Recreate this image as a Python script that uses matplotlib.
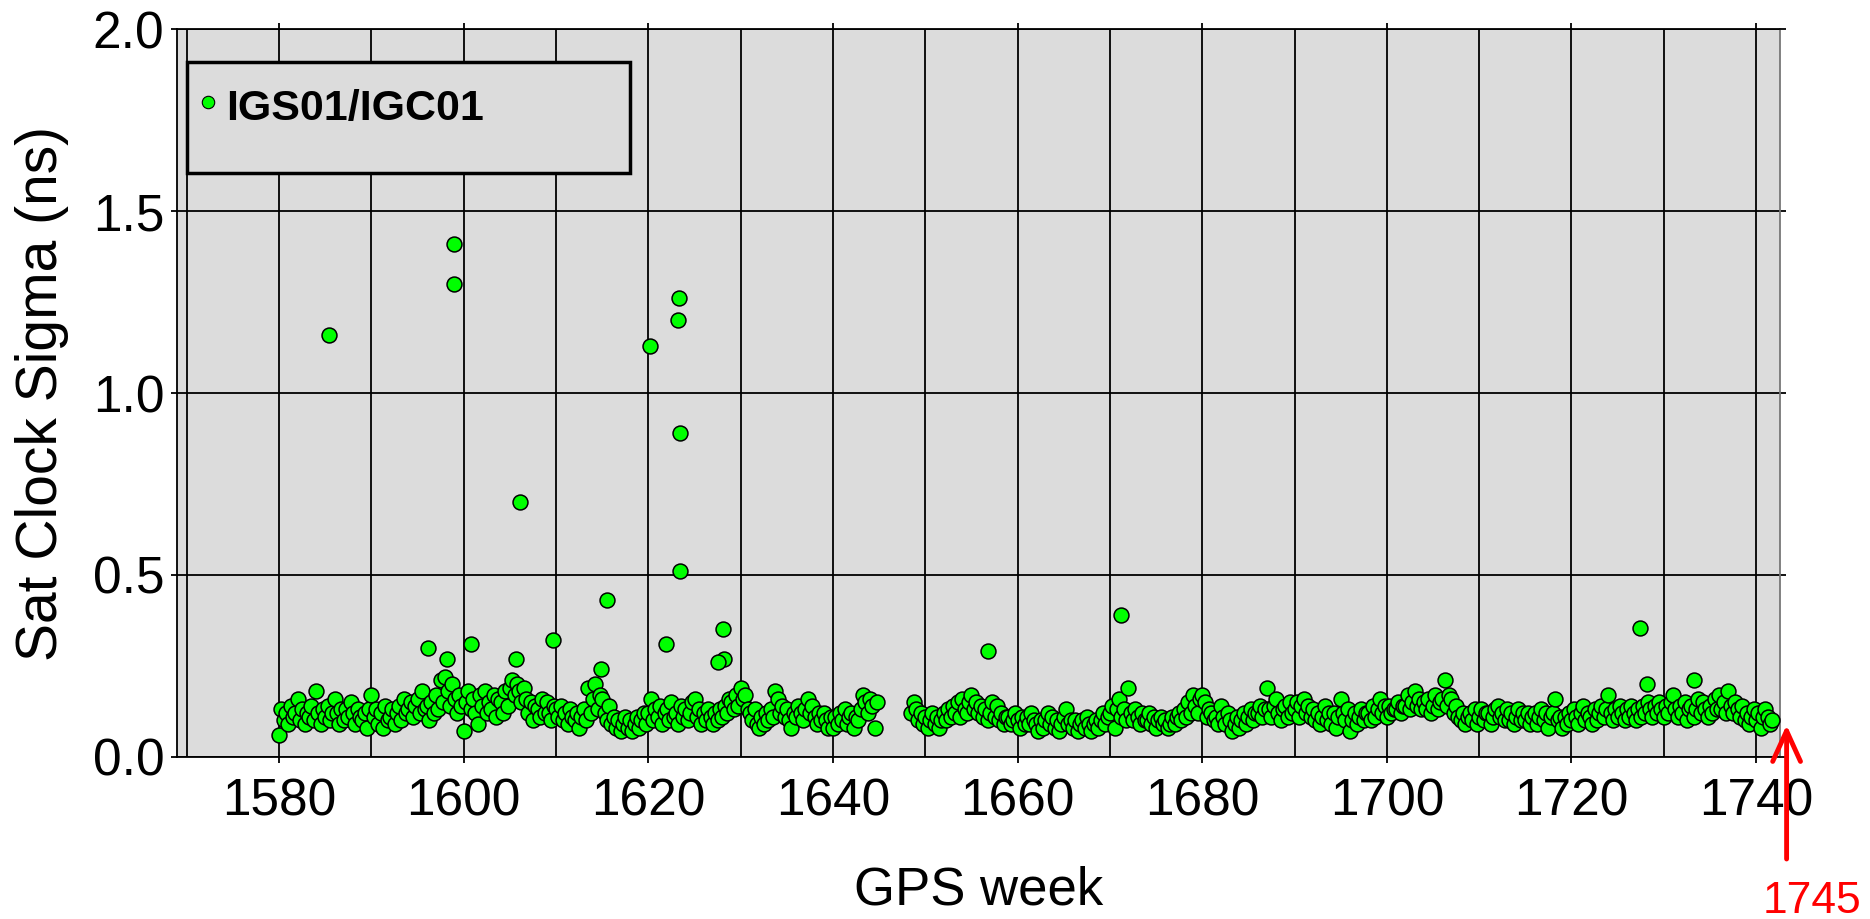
import numpy as np
import matplotlib
matplotlib.use("Agg")
import matplotlib.pyplot as plt
from matplotlib.patches import Rectangle
from matplotlib.ticker import FormatStrFormatter

plt.rcParams["font.family"] = ["Liberation Sans", "DejaVu Sans"]

# satellite clock sigma (ns) at 4 samples per GPS week
PER_WEEK = 4
SEG1_START = 1580.0
seg1_sigma = [
    0.06, 0.13, 0.10, 0.12, 0.09, 0.14, 0.11, 0.12, 0.16, 0.10, 0.13, 0.09, 0.12, 0.11, 0.14, 0.10, 0.18, 0.12, 0.09, 0.13,
    0.11, 0.14, 0.10, 0.12, 0.16, 0.12, 0.09, 0.13, 0.10, 0.13, 0.11, 0.15, 0.12, 0.09, 0.13, 0.11, 0.10, 0.12, 0.08, 0.13,
    0.17, 0.11, 0.13, 0.09, 0.12, 0.08, 0.14, 0.10, 0.11, 0.13, 0.09, 0.12, 0.14, 0.10, 0.16, 0.12, 0.13, 0.15, 0.11, 0.14,
    0.16, 0.12, 0.18, 0.13, 0.14, 0.10, 0.15, 0.12, 0.17, 0.13, 0.21, 0.15, 0.22, 0.18, 0.14, 0.20, 0.16, 0.12, 0.17, 0.14,
    0.07, 0.15, 0.18, 0.13, 0.16, 0.12, 0.09, 0.17, 0.14, 0.18, 0.12, 0.15, 0.13, 0.17, 0.11, 0.16, 0.15, 0.12, 0.18, 0.14,
    0.19, 0.21, 0.17, 0.20, 0.18, 0.15, 0.19, 0.16, 0.12, 0.15, 0.10, 0.14, 0.13, 0.11, 0.16, 0.12, 0.15, 0.12, 0.10, 0.14,
    0.13, 0.11, 0.14, 0.10, 0.12, 0.09, 0.13, 0.11, 0.10, 0.12, 0.08, 0.11, 0.13, 0.10, 0.19, 0.12, 0.16, 0.20, 0.13, 0.17,
    0.16, 0.12, 0.10, 0.14, 0.09, 0.11, 0.08, 0.10, 0.07, 0.09, 0.11, 0.08, 0.10, 0.07, 0.09, 0.11, 0.08, 0.10, 0.12, 0.09,
    0.12, 0.16, 0.10, 0.13, 0.11, 0.14, 0.09, 0.12, 0.13, 0.10, 0.15, 0.11, 0.12, 0.09, 0.14, 0.11, 0.13, 0.10, 0.12, 0.15,
    0.16, 0.11, 0.13, 0.09, 0.12, 0.10, 0.13, 0.11, 0.09, 0.12, 0.10, 0.13, 0.11, 0.14, 0.12, 0.16, 0.15, 0.13, 0.17, 0.14,
    0.19, 0.16, 0.17, 0.13, 0.12, 0.10, 0.13, 0.09, 0.08, 0.11, 0.09, 0.12, 0.10, 0.13, 0.11, 0.18, 0.16, 0.12, 0.14, 0.11,
    0.13, 0.10, 0.08, 0.12, 0.11, 0.14, 0.12, 0.10, 0.13, 0.16, 0.12, 0.14, 0.11, 0.09, 0.12, 0.10, 0.12, 0.10, 0.08, 0.11,
    0.08, 0.11, 0.09, 0.12, 0.10, 0.13, 0.09, 0.11, 0.12, 0.08, 0.11, 0.10, 0.13, 0.17, 0.15, 0.12, 0.16, 0.14, 0.08, 0.15,
]
SEG2_START = 1648.5
seg2_sigma = [
    0.12, 0.15,
    0.13, 0.10, 0.12, 0.09, 0.11, 0.08, 0.10, 0.12, 0.09, 0.11, 0.08, 0.10, 0.12, 0.10, 0.13, 0.11, 0.14, 0.12, 0.15, 0.11,
    0.16, 0.13, 0.12, 0.15, 0.17, 0.13, 0.15, 0.12, 0.14, 0.11, 0.13, 0.10, 0.12, 0.15, 0.11, 0.14, 0.10, 0.12, 0.09, 0.11,
    0.11, 0.09, 0.10, 0.12, 0.10, 0.08, 0.11, 0.09, 0.11, 0.09, 0.12, 0.10, 0.09, 0.07, 0.10, 0.08, 0.10, 0.12, 0.09, 0.11,
    0.08, 0.10, 0.07, 0.09, 0.11, 0.13, 0.09, 0.10, 0.08, 0.10, 0.07, 0.09, 0.10, 0.08, 0.11, 0.09, 0.07, 0.09, 0.10, 0.08,
    0.10, 0.12, 0.09, 0.11, 0.12, 0.14, 0.08, 0.13, 0.16, 0.11, 0.13, 0.10, 0.19, 0.12, 0.10, 0.13, 0.11, 0.09, 0.12, 0.10,
    0.10, 0.12, 0.09, 0.11, 0.08, 0.10, 0.11, 0.09, 0.10, 0.08, 0.09, 0.11, 0.09, 0.11, 0.12, 0.10, 0.13, 0.11, 0.15, 0.12,
    0.17, 0.14, 0.12, 0.16, 0.17, 0.15, 0.11, 0.13, 0.12, 0.10, 0.11, 0.09, 0.14, 0.11, 0.09, 0.12, 0.10, 0.07, 0.09, 0.11,
    0.08, 0.10, 0.12, 0.09, 0.11, 0.13, 0.10, 0.12, 0.12, 0.14, 0.11, 0.13, 0.19, 0.13, 0.11, 0.14, 0.16, 0.12, 0.10, 0.13,
    0.14, 0.11, 0.15, 0.12, 0.13, 0.15, 0.11, 0.14, 0.16, 0.12, 0.14, 0.11, 0.13, 0.10, 0.12, 0.09, 0.11, 0.14, 0.10, 0.12,
    0.09, 0.12, 0.08, 0.11, 0.16, 0.12, 0.10, 0.13, 0.07, 0.10, 0.12, 0.09, 0.11, 0.13, 0.10, 0.12, 0.12, 0.10, 0.14, 0.11,
    0.13, 0.16, 0.12, 0.14, 0.11, 0.14, 0.12, 0.13, 0.13, 0.15, 0.12, 0.14, 0.14, 0.17, 0.13, 0.15, 0.18, 0.14, 0.16, 0.13,
    0.15, 0.13, 0.16, 0.12, 0.14, 0.17, 0.13, 0.15, 0.16, 0.21, 0.14, 0.17, 0.16, 0.12, 0.14, 0.11, 0.10, 0.12, 0.09, 0.11,
    0.12, 0.10, 0.13, 0.09, 0.11, 0.13, 0.10, 0.12, 0.12, 0.09, 0.11, 0.13, 0.14, 0.11, 0.12, 0.10, 0.13, 0.10, 0.12, 0.09,
    0.11, 0.13, 0.10, 0.12, 0.10, 0.12, 0.09, 0.11, 0.12, 0.09, 0.11, 0.13, 0.10, 0.12, 0.08, 0.11, 0.12, 0.16, 0.10, 0.11,
    0.08, 0.11, 0.09, 0.12, 0.10, 0.13, 0.11, 0.09, 0.12, 0.14, 0.10, 0.12, 0.11, 0.09, 0.13, 0.10, 0.12, 0.14, 0.11, 0.13,
    0.17, 0.12, 0.10, 0.13, 0.11, 0.14, 0.12, 0.10, 0.13, 0.11, 0.14, 0.12, 0.10, 0.13, 0.11, 0.14, 0.12, 0.15, 0.13, 0.11,
    0.14, 0.12, 0.15, 0.13, 0.11, 0.14, 0.12, 0.15, 0.17, 0.13, 0.11, 0.14, 0.12, 0.15, 0.10, 0.13, 0.14, 0.11, 0.13, 0.16,
    0.12, 0.15, 0.13, 0.11, 0.14, 0.12, 0.16, 0.13, 0.17, 0.13, 0.15, 0.12, 0.18, 0.14, 0.12, 0.15, 0.13, 0.11, 0.14, 0.10,
    0.12, 0.09, 0.11, 0.13, 0.10, 0.12, 0.08, 0.11, 0.13, 0.11, 0.09, 0.10,
]

# isolated high values
outlier_weeks = [1585.4, 1598.9, 1598.9, 1606.1, 1620.2, 1623.3, 1623.2, 1623.4, 1623.4, 1621.9,
                 1615.5, 1614.9, 1628.1, 1628.2, 1627.5, 1609.7, 1605.7, 1600.8, 1596.1, 1598.2,
                 1656.8, 1671.2, 1727.4, 1728.2, 1733.3]
outlier_sigma = [1.16, 1.41, 1.30, 0.70, 1.13, 1.26, 1.20, 0.89, 0.51, 0.31,
                 0.43, 0.24, 0.35, 0.27, 0.26, 0.32, 0.27, 0.31, 0.30, 0.27,
                 0.29, 0.39, 0.355, 0.20, 0.21]

week1 = SEG1_START + np.arange(len(seg1_sigma)) / PER_WEEK
week2 = SEG2_START + np.arange(len(seg2_sigma)) / PER_WEEK
weeks = np.concatenate([week1, week2, outlier_weeks])
sigma = np.concatenate([seg1_sigma, seg2_sigma, outlier_sigma])

fig = plt.figure(figsize=(18.7, 9.19), dpi=100)
ax = fig.add_axes([0.0945, 0.1766, 0.8574, 0.7915])
ax.set_facecolor("#dcdcdc")

ax.scatter(weeks, sigma, s=115, c="#00ff00", edgecolors="black", linewidths=1.1, zorder=3)

ax.set_xticks(np.arange(1580, 1741, 20))
ax.set_xticks(np.arange(1570, 1741, 10), minor=True)
ax.set_yticks(np.arange(0, 2.01, 0.5))
ax.yaxis.set_major_formatter(FormatStrFormatter("%.1f"))
ax.grid(True, which="both", color="black", linewidth=1.3)
ax.set_axisbelow(True)
ax.tick_params(axis="x", which="major", direction="out", length=4, width=1.3,
               top=True, labelsize=37, pad=11)
ax.tick_params(axis="x", which="minor", length=0)
ax.tick_params(axis="y", direction="out", length=4, width=1.3, right=True,
               labelsize=37, pad=5)
for sp in ax.spines.values():
    sp.set_color("black")
    sp.set_linewidth(1.3)
ax.spines["right"].set_color("#777777")

ax.set_xlabel("GPS week", fontsize=38)
ax.xaxis.set_label_coords(0.5, -0.1833)
ax.xaxis.label.set_va("center")
ax.set_ylabel("Sat Clock Sigma (ns)", fontsize=41)
ax.yaxis.set_label_coords(-0.084, 0.5)
ax.yaxis.label.set_va("center")

# legend box drawn by hand (it is much taller than its single entry)
ax.add_patch(Rectangle((0.0064, 0.8025), 0.2763, 0.1526, transform=ax.transAxes,
                       facecolor="#dcdcdc", edgecolor="black", linewidth=2.5, zorder=4))
ax.scatter([0.0195], [0.9005], s=80, c="#00ff00", edgecolors="black", linewidths=0.8,
           transform=ax.transAxes, zorder=5, clip_on=False)
ax.text(0.031, 0.8753, "IGS01/IGC01", transform=ax.transAxes, fontsize=31,
        fontweight="bold", ha="left", va="baseline", zorder=5)

ax.set_xlim(1568.9, 1742.6)
ax.set_ylim(0, 2.0)

# red marker for week 1745
ax.annotate("", xy=(0.9554, 0.2111), xytext=(0.9554, 0.0653), xycoords="figure fraction",
            arrowprops=dict(arrowstyle="->,head_length=2.2,head_width=1.0", color="red",
                            lw=3.5, shrinkA=0, shrinkB=0),
            annotation_clip=False)
fig.text(0.969, 0.0065, "1745", color="red", fontsize=32, ha="center", va="baseline")

fig.savefig("out.png", dpi=100)
